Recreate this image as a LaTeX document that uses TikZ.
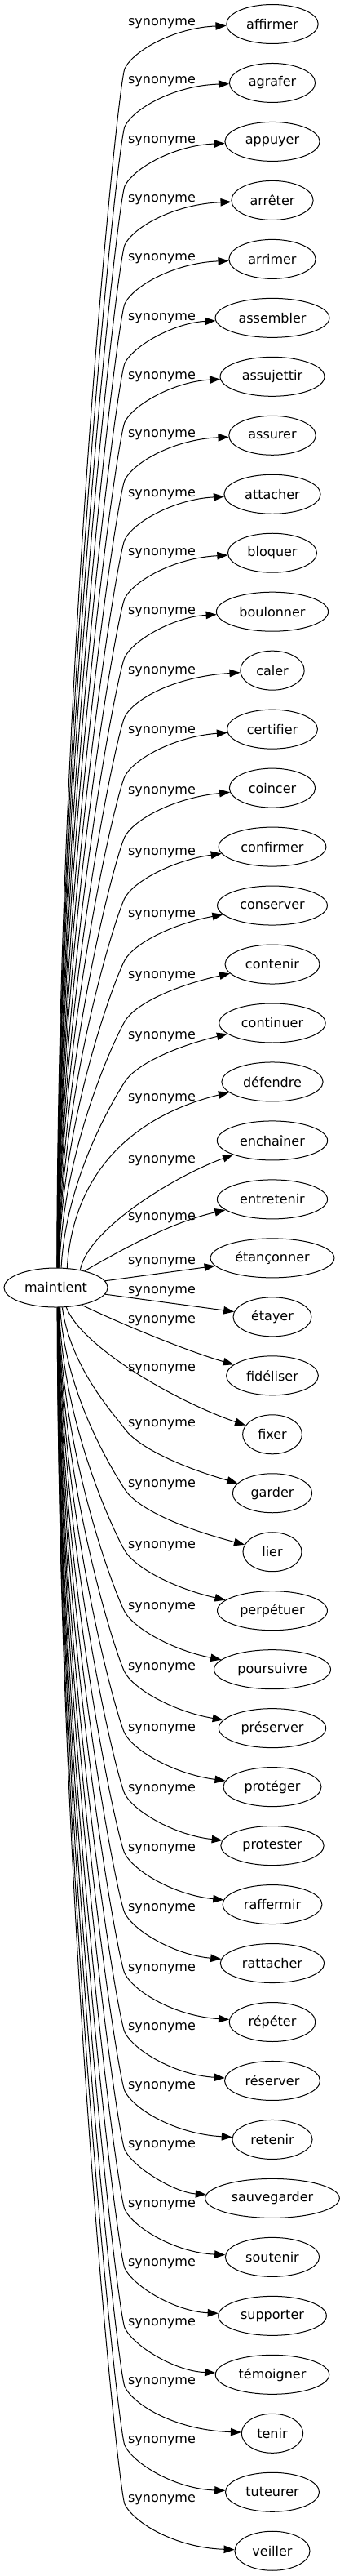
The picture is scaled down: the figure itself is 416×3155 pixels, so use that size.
\documentclass[tikz,border=0pt]{standalone}
\usepackage{fontspec}
\setmainfont{DejaVu Sans}
\usetikzlibrary{shapes.geometric,arrows.meta,calc}
\begin{document}
\begin{tikzpicture}[x=1pt,y=-1pt,
  syn/.style={ellipse,draw,line width=1pt,minimum width=72pt,minimum height=48pt,inner xsep=8pt,inner ysep=0pt,font=\fontsize{16pt}{19pt}\selectfont},
  lab/.style={font=\fontsize{16pt}{19pt}\selectfont,inner sep=0pt},
  edge/.style={line width=1pt,-{Triangle[length=13pt,width=9.5pt]}}]
\useasboundingbox (0,0) rectangle (416,3155);
\node[syn,inner xsep=6.5pt] (main) at (68.5,1577) {maintient};
\foreach \i/\t in {0/affirmer,1/agrafer,2/appuyer,3/arrêter,4/arrimer,5/assembler,6/assujettir,7/assurer,8/attacher,9/bloquer,10/boulonner,11/caler,12/certifier,13/coincer,14/confirmer,15/conserver,16/contenir,17/continuer,18/défendre,19/enchaîner,20/entretenir,21/étançonner,22/étayer,23/fidéliser,24/fixer,25/garder,26/lier,27/perpétuer,28/poursuivre,29/préserver,30/protéger,31/protester,32/raffermir,33/rattacher,34/répéter,35/réserver,36/retenir,37/sauvegarder,38/soutenir,39/supporter,40/témoigner,41/tenir,42/tuteurer,43/veiller}{
  \node[syn] (t\i) at (334,{29.5+71.97*\i}) {\t};
}
\foreach \i/\l in {0/29,1/100,2/173,3/245,4/317,5/390,6/462,7/533,8/606,9/678,10/750,11/823,12/896,13/970,14/1045,15/1121,16/1196,17/1270,18/1346,19/1422,20/1492,21/1546,22/1582,23/1618,24/1677,25/1745,26/1819,27/1894,28/1969,29/2043,30/2118,31/2192,32/2265,33/2338,34/2412,35/2484,36/2556,37/2628,38/2701,39/2773,40/2846,41/2918,42/2990,43/3062}{
  \node[lab] (l\i) at (198.5,\l) {synonyme};
}
% top edges, two segments
\foreach \i/\l in {0/29,1/100,2/173,3/245,4/317,5/390,6/462,7/533,8/606,9/678,10/750,11/823,12/896,13/970,14/1045,15/1121,16/1196,17/1270}{
  \pgfmathsetmacro{\myM}{21-\i}
  \pgfmathsetmacro{\myTh}{ifthenelse(\myM==4,75,ifthenelse(\myM==5,80,82+(\myM-6)*0.35))}
  \pgfmathsetmacro{\myNy}{29.5+71.97*\i}
  \pgfmathsetmacro{\myVy}{\l+55}
  \pgfmathsetmacro{\myDy}{1553-\myVy}
  \pgfmathsetmacro{\myA}{0.45+40/\myDy}
  \pgfmathsetmacro{\myNn}{sqrt(\myA*\myA+1)}
  \pgfmathsetmacro{\myUx}{\myA/\myNn}
  \pgfmathsetmacro{\myUy}{-1/\myNn}
  \pgfmathsetmacro{\myCax}{1500/\myDy}
  \pgfmathsetmacro{\myCay}{-0.5*\myDy}
  \pgfmathsetmacro{\myCbx}{153-20*\myUx}
  \pgfmathsetmacro{\myCby}{\myVy-20*\myUy}
  \pgfmathsetmacro{\myCcx}{153+25*\myUx}
  \pgfmathsetmacro{\myCcy}{\myVy+25*\myUy}
  \pgfmathsetmacro{\myCdy}{\myNy+1.4*(\l-\myNy)+5}
  \draw[edge] (main.\myTh) .. controls ($(main.\myTh)+(\myCax,\myCay)$) and (\myCbx,\myCby) .. (153,\myVy) .. controls (\myCcx,\myCcy) and (215,\myCdy) .. (t\i);
}
% bottom edges, two segments
\foreach \i/\l in {25/1745,26/1819,27/1894,28/1969,29/2043,30/2118,31/2192,32/2265,33/2338,34/2412,35/2484,36/2556,37/2628,38/2701,39/2773,40/2846,41/2918,42/2990,43/3062}{
  \pgfmathsetmacro{\myN}{\i-22}
  \pgfmathsetmacro{\myTh}{ifthenelse(\myN==3,-72,ifthenelse(\myN==4,-78,ifthenelse(\myN==5,-81,-82-(\myN-6)*0.3)))}
  \pgfmathsetmacro{\myNy}{29.5+71.97*\i}
  \pgfmathsetmacro{\myVy}{\l+5}
  \pgfmathsetmacro{\myDy}{\myVy-1601}
  \pgfmathsetmacro{\myA}{0.45+40/\myDy}
  \pgfmathsetmacro{\myNn}{sqrt(\myA*\myA+1)}
  \pgfmathsetmacro{\myUx}{\myA/\myNn}
  \pgfmathsetmacro{\myUy}{1/\myNn}
  \pgfmathsetmacro{\myCax}{1500/\myDy}
  \pgfmathsetmacro{\myCay}{0.5*\myDy}
  \pgfmathsetmacro{\myCbx}{153-20*\myUx}
  \pgfmathsetmacro{\myCby}{\myVy-20*\myUy}
  \pgfmathsetmacro{\myCcx}{153+25*\myUx}
  \pgfmathsetmacro{\myCcy}{\myVy+25*\myUy}
  \pgfmathsetmacro{\myCdy}{\myNy-5-1.4*(\myNy-\l-63)}
  \draw[edge] (main.\myTh) .. controls ($(main.\myTh)+(\myCax,\myCay)$) and (\myCbx,\myCby) .. (153,\myVy) .. controls (\myCcx,\myCcy) and (215,\myCdy) .. (t\i);
}
% middle edges
\draw[edge] (main.60) .. controls (90,1430) and (170,1365) .. (t18);
\draw[edge] (main.36) .. controls (108,1505) and (215,1440) .. (t19);
\draw[edge] (main.30) .. controls (150,1530) and (210,1497) .. (t20);
\draw[edge] (main) -- (t21);
\draw[edge] (main) -- (t22);
\draw[edge] (main.-34) .. controls (150,1622) and (230,1655) .. (t23);
\draw[edge] (main.-62) .. controls (100,1650) and (217,1717) .. (t24);
\end{tikzpicture}
\end{document}
